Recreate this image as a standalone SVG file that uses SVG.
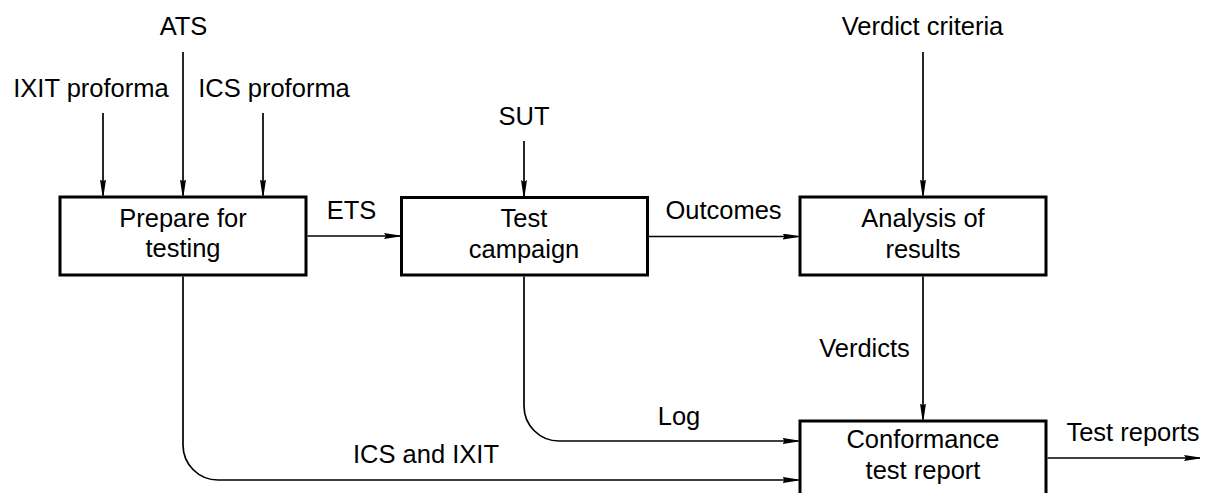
<svg xmlns="http://www.w3.org/2000/svg" width="1205" height="493" viewBox="0 0 1205 493">
  <style>
    .box { fill: #ffffff; stroke: #000000; stroke-width: 3; }
    .lbl { font-family: "Liberation Sans", Arial, sans-serif; font-size: 25.5px; fill: #000000; text-anchor: middle; }
    .con { fill: none; stroke: #000000; stroke-width: 1.7; }
  </style>
  <defs>
    <marker id="arr" viewBox="0 0 16 6" refX="16" refY="3" markerWidth="16" markerHeight="6" markerUnits="userSpaceOnUse" orient="auto">
      <path d="M0,0 L16,2.4 L16,3.6 L0,6 L2,3 z" fill="#000000"/>
    </marker>
  </defs>

  <g id="connectors">
    <line class="con" x1="103" y1="113" x2="103" y2="195.5" marker-end="url(#arr)"/>
    <line class="con" x1="183" y1="52" x2="183" y2="195.5" marker-end="url(#arr)"/>
    <line class="con" x1="263" y1="113" x2="263" y2="195.5" marker-end="url(#arr)"/>
    <line class="con" x1="524" y1="141" x2="524" y2="196" marker-end="url(#arr)"/>
    <line class="con" x1="923" y1="52" x2="923" y2="195.5" marker-end="url(#arr)"/>
    <line class="con" x1="307.5" y1="236" x2="400" y2="236" marker-end="url(#arr)"/>
    <line class="con" x1="649" y1="236.5" x2="798.5" y2="236.5" marker-end="url(#arr)"/>
    <line class="con" x1="923" y1="276.5" x2="923" y2="419.5" marker-end="url(#arr)"/>
    <line class="con" x1="1047.5" y1="458" x2="1200" y2="458" marker-end="url(#arr)"/>
    <path class="con" d="M524,276.5 V406 A35,35 0 0 0 559,441 H798.5" marker-end="url(#arr)"/>
    <path class="con" d="M183,276.5 V445 A35,35 0 0 0 218,480 H798.5" marker-end="url(#arr)"/>
    <text class="lbl" x="91" y="97">IXIT proforma</text>
    <text class="lbl" x="183.5" y="35">ATS</text>
    <text class="lbl" x="274" y="97">ICS proforma</text>
    <text class="lbl" x="524" y="125">SUT</text>
    <text class="lbl" x="922.5" y="35">Verdict criteria</text>
    <text class="lbl" x="351.5" y="219">ETS</text>
    <text class="lbl" x="723.5" y="219">Outcomes</text>
    <text class="lbl" x="864.5" y="357">Verdicts</text>
    <text class="lbl" x="679" y="425">Log</text>
    <text class="lbl" x="426" y="463">ICS and IXIT</text>
    <text class="lbl" x="1133" y="441">Test reports</text>
  </g>

  <g id="prepare">
    <rect class="box" x="60" y="197" width="246" height="78"/>
    <text class="lbl" x="183" y="227">Prepare for</text>
    <text class="lbl" x="183" y="257">testing</text>
  </g>
  <g id="campaign">
    <rect class="box" x="401.5" y="197.5" width="246" height="77.5"/>
    <text class="lbl" x="524" y="227">Test</text>
    <text class="lbl" x="524" y="258">campaign</text>
  </g>
  <g id="analysis">
    <rect class="box" x="800" y="197" width="246" height="78"/>
    <text class="lbl" x="923" y="227">Analysis of</text>
    <text class="lbl" x="923" y="258">results</text>
  </g>
  <g id="report">
    <rect class="box" x="800" y="421" width="246" height="100"/>
    <text class="lbl" x="923" y="448">Conformance</text>
    <text class="lbl" x="923" y="479">test report</text>
  </g>
</svg>
